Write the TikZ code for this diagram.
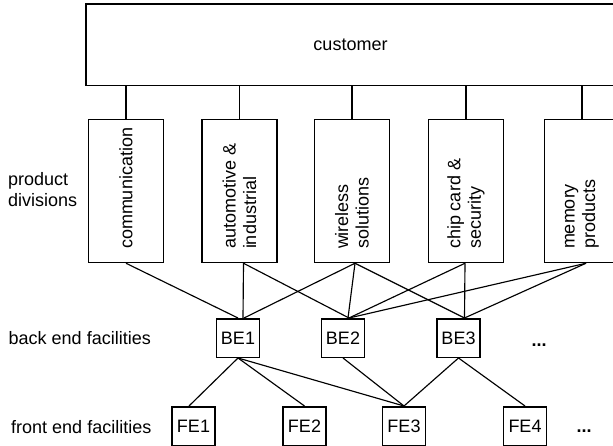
\documentclass[tikz,border=0pt]{standalone}
\usepackage{fontspec}
\setmainfont{Liberation Sans}
\newcommand{\divtext}[1]{\rotatebox{90}{\parbox{116pt}{\raggedright #1}}}
\begin{document}
\begin{tikzpicture}[x=1pt,y=-1pt,
  box/.style={draw, line width=1.5pt, inner sep=0pt, fill=white, font=\fontsize{18}{20.5}\selectfont},
  divbox/.style={box, minimum width=75pt, minimum height=143pt},
  fbox/.style={box, minimum width=43pt, minimum height=38.5pt},
  wire/.style={line width=1.15pt},
  lab/.style={font=\fontsize{18}{21}\selectfont, inner sep=0pt}]
\useasboundingbox (0,0) rectangle (613,446);

% customer
\node[box, minimum width=529pt, minimum height=81.5pt] (cust) at (350.5,44.75) {customer};

% product divisions
\node[divbox] (d1) at (126,191) {\divtext{communication}};
\node[divbox] (d2) at (239.5,191) {\divtext{automotive \&\\industrial}};
\node[divbox] (d3) at (352,191) {\divtext{wireless\\solutions}};
\node[divbox] (d4) at (466,191) {\divtext{chip card \&\\security}};
\node[divbox] (d5) at (582,191) {\divtext{memory\\products}};

% back end
\node[fbox] (be1) at (238,338) {BE1};
\node[fbox] (be2) at (343,338) {BE2};
\node[fbox] (be3) at (458.5,338) {BE3};

% front end
\node[fbox] (fe1) at (193.5,426) {FE1};
\node[fbox] (fe2) at (304.5,426) {FE2};
\node[fbox] (fe3) at (404,426) {FE3};
\node[fbox] (fe4) at (525,426) {FE4};

% labels
\node[lab, align=left, anchor=west] (pd) at (8,189.5) {product\\divisions};
\node[lab, anchor=east] (bef) at (151,338.5) {back end facilities};
\node[lab, anchor=east] (fef) at (151.5,427) {front end facilities};
\node[lab, anchor=base] (bedots) at (539,346) {\textbf{...}};
\node[lab, anchor=base] (fedots) at (584,432) {\textbf{...}};

% customer to divisions
\foreach \d in {d1,d2,d3,d4,d5}
  \draw[wire] (\d.north) -- (\d.north |- cust.south);

% divisions to back end
\draw[wire] (d1.south) -- (be1.north);
\draw[wire] ([xshift=4pt]d2.south) -- ([xshift=5pt]be1.north);
\draw[wire] ([xshift=4pt]d2.south) -- ([xshift=6pt]be2.north);
\draw[wire] ([xshift=3pt]d3.south) -- ([xshift=6pt]be1.north);
\draw[wire] ([xshift=3pt]d3.south) -- ([xshift=5pt]be2.north);
\draw[wire] ([xshift=3pt]d3.south) -- ([xshift=6pt]be3.north);
\draw[wire] ([xshift=-1pt]d4.south) -- ([xshift=6pt]be2.north);
\draw[wire] ([xshift=-1pt]d4.south) -- ([xshift=6pt]be3.north);
\draw[wire] ([xshift=4pt]d5.south) -- ([xshift=6pt]be2.north);
\draw[wire] ([xshift=4pt]d5.south) -- ([xshift=6pt]be3.north);

% back end to front end
\draw[wire] (be1.south) -- ([xshift=-4.5pt]fe1.north);
\draw[wire] (be1.south) -- (fe2.north);
\draw[wire] (be1.south) -- (fe3.north);
\draw[wire] (be2.south) -- (fe3.north);
\draw[wire] (be3.south) -- (fe3.north);
\draw[wire] (be3.south) -- (fe4.north);
\end{tikzpicture}
\end{document}
